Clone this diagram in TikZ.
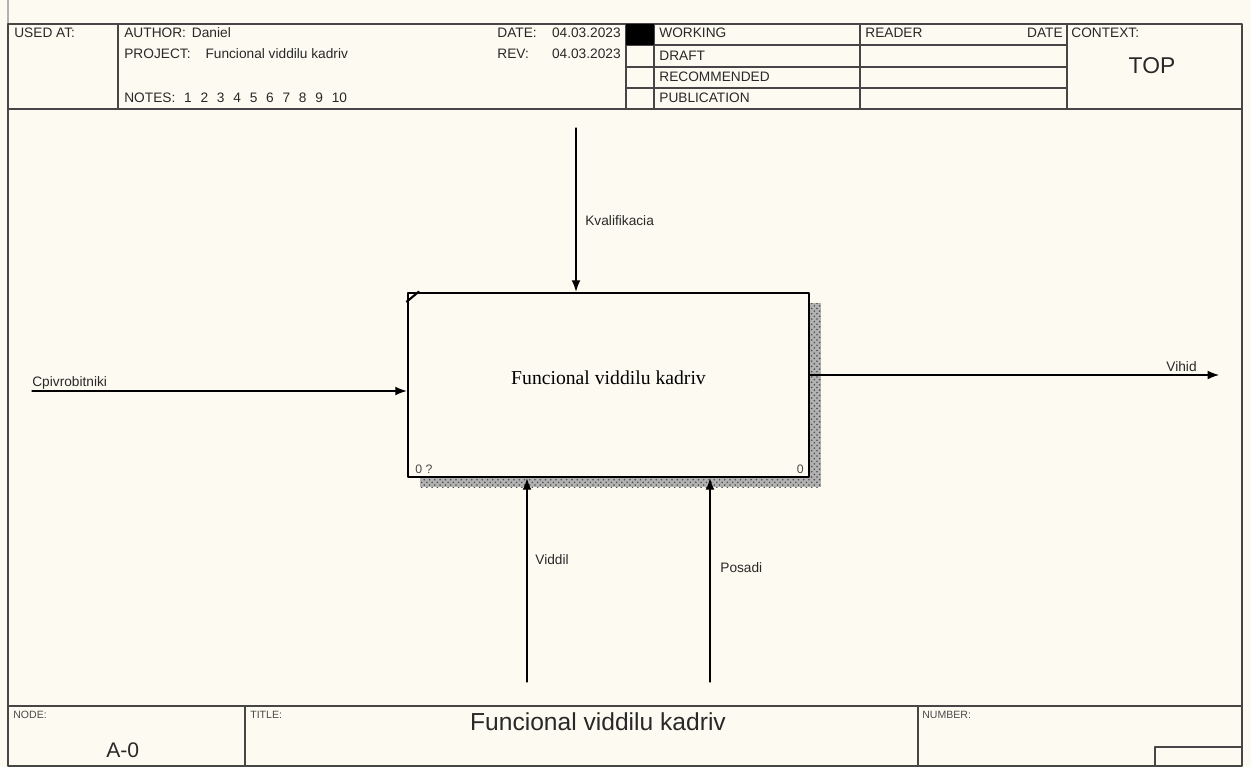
\documentclass[tikz,border=0pt]{standalone}
\usepackage{fontspec}
\setmainfont{Liberation Sans}
\newfontfamily\boxfont{Liberation Serif}
\usetikzlibrary{arrows.meta,patterns}
\definecolor{paper}{RGB}{253,251,241}
\definecolor{rule}{RGB}{70,70,70}
\definecolor{ink}{RGB}{40,40,40}
\tikzset{
	hdr/.style={anchor=base west, inner sep=0pt, text=ink, font=\fontsize{7.8}{9}\selectfont},
	tag/.style={anchor=base west, inner sep=0pt, text=ink!85, font=\fontsize{6}{7}\selectfont},
	flow/.style={-{Latex[length=6.5pt,width=5pt]}, line width=0.6pt},
	func/.style={draw, line width=1.5pt, fill=paper, minimum width=8.02cm, minimum height=3.68cm, text height=7.5pt, text depth=8.5pt, font=\boxfont\fontsize{11.2}{13}\selectfont}
}
\begin{document}
\begin{tikzpicture}[x=0.02cm, y=-0.02cm, line cap=round, line join=round]
	\fill[paper] (0,0) rectangle (1251,767);
	\useasboundingbox (0,0) rectangle (1251,767);
	\draw[gray!60, line width=1pt] (8,0) -- (8,24);
	\begin{scope}[rule, line width=1.1pt]
		\draw (8,24) rectangle (1242,766);
		\draw (8,109) -- (1242,109) (8,706) -- (1242,706);
		\foreach \px in {118,626,654,860,1067}
		\draw (\px,24) -- (\px,109);
		\foreach \py in {45,67,88}
		\draw (626,\py) -- (1067,\py);
		\fill[black] (626,24) rectangle (654,45);
		\draw (245,706) -- (245,766) (918,706) -- (918,766);
		\draw (1155,766) -- (1155,747) -- (1242,747);
	\end{scope}
	\node[hdr] (usedat) at (14,38) {USED AT:};
	\node[hdr] (author) at (124,38) {AUTHOR:\hspace{3.4pt}Daniel};
	\node[hdr] (project) at (124,59) {PROJECT:\hspace{8.5pt}Funcional viddilu kadriv};
	\node[hdr] (notes) at (124,103) {\spaceskip=5pt NOTES: 1 2 3 4 5 6 7 8 9 10};
	\node[hdr] (date) at (497,38) {DATE:};
	\node[hdr, anchor=base east] (datev) at (621,38) {04.03.2023};
	\node[hdr] (rev) at (497,59) {REV:};
	\node[hdr, anchor=base east] (revv) at (621,59) {04.03.2023};
	\foreach \py/\st in {38/WORKING, 61/DRAFT, 82/RECOMMENDED, 103/PUBLICATION}
	\node[hdr] (st-\st) at (659,\py) {\st};
	\node[hdr] (reader) at (865,38) {READER};
	\node[hdr, anchor=base east] (rdate) at (1063,38) {DATE};
	\node[hdr] (context) at (1071,38) {CONTEXT:};
	\node[text=ink, font=\fontsize{13}{15}\selectfont, inner sep=0pt] (top) at (1152,66) {TOP};
	\fill[black!30] (420,303) rectangle (821,487);
	\fill[pattern=crosshatch dots, pattern color=black!70] (420,303) rectangle (821,487);
	\node[func] (fn) at (608.5,385) {Funcional viddilu kadriv};
	\draw[line width=1.2pt] ([shift={(0,10)}]fn.north west) -- ([shift={(12,0)}]fn.north west);
	\node[tag, font=\fontsize{7}{8}\selectfont] (fnid) at (415,473) {0 ?};
	\node[tag, font=\fontsize{7}{8}\selectfont, anchor=base east] (fnno) at (804,473) {0};
	\coordinate (cin) at (32,391);
	\coordinate (cctl) at (576,128);
	\coordinate (cout) at (1219,375);
	\coordinate (cm1) at (527,682);
	\coordinate (cm2) at (710,682);
	\draw[flow] (cin) -- (cin -| fn.west);
	\draw[flow] (cctl) -- (cctl |- fn.north);
	\draw[flow] (fn.east |- cout) -- (cout);
	\draw[flow] (cm1) -- (cm1 |- fn.south);
	\draw[flow] (cm2) -- (cm2 |- fn.south);
	\node[hdr] (kval) at (585,225) {Kvalifikacia};
	\node[hdr] (cpiv) at (32,386) {Cpivrobitniki};
	\node[hdr, anchor=base east] (vihid) at (1197,371) {Vihid};
	\node[hdr] (viddil) at (535,564) {Viddil};
	\node[hdr] (posadi) at (720,572) {Posadi};
	\node[tag] (nodetag) at (13,718) {NODE:};
	\node[tag] (titletag) at (250,718) {TITLE:};
	\node[tag] (numtag) at (922,718) {NUMBER:};
	\node[anchor=base west, inner sep=0pt, text=ink, font=\fontsize{12}{14}\selectfont] (nodeid) at (106,757) {A-0};
	\node[anchor=base, inner sep=0pt, text=ink, font=\fontsize{14}{16}\selectfont] (title) at (598,730) {Funcional viddilu kadriv};
\end{tikzpicture}
\end{document}
